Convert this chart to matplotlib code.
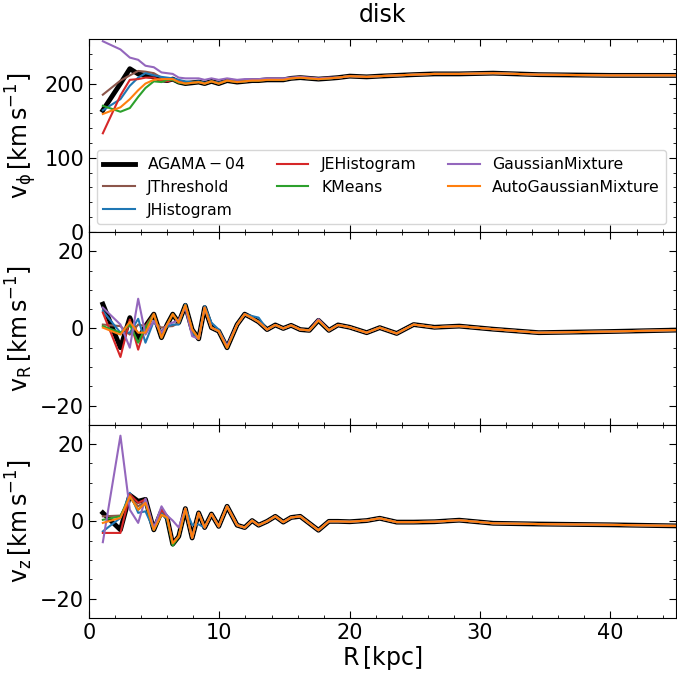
import matplotlib
matplotlib.use("Agg")
import matplotlib.pyplot as plt
from matplotlib.ticker import MultipleLocator

# radial bins [kpc]
R = [1.06, 2.41, 3.13, 3.77, 4.33, 4.97, 5.56, 5.99, 6.42, 6.88,
     7.39, 7.91, 8.41, 8.87, 9.39, 9.95, 10.59, 11.36, 11.94, 12.51,
     13.01, 13.66, 14.29, 14.9, 15.5, 16.2, 16.9, 17.6, 18.4, 19.1,
     20.0, 21.3, 22.3, 23.6, 24.9, 26.5, 28.4, 31.0, 34.5, 40.0, 45.5]

labels = [r"$\rm AGAMA-04$", "JThreshold", "JHistogram", "JEHistogram",
          "KMeans", "GaussianMixture", "AutoGaussianMixture"]
colors = ["black", "tab:brown", "tab:blue", "tab:red", "tab:green", "tab:purple", "tab:orange"]

# v_phi
vphi_agama = [164, 200, 220, 213, 211, 209, 205, 204, 206, 202,
              200, 201, 202, 200, 203, 200, 204, 202, 203, 204,
              204, 205, 205, 205, 207, 208, 207, 206, 207, 208,
              210, 209, 210, 211, 212, 213, 213, 214, 212, 211, 211]
vphi_jthr = [185, 204, 211, 217, 216, 214, 208, 206, 205, 203,
             201, 201, 202, 200, 203, 201, 204, 203, 203, 204,
             205, 205, 205, 205, 207, 208, 207, 206, 207, 208,
             210, 209, 210, 211, 212, 213, 213, 214, 212, 211, 211]
vphi_jhist = [164, 179, 197, 208, 214, 211, 209, 208, 207, 205,
              203, 202, 203, 201, 203, 201, 204, 203, 203, 204,
              205, 205, 205, 205, 207, 208, 207, 206, 207, 208,
              210, 209, 210, 211, 212, 213, 213, 214, 212, 211, 211]
vphi_jehist = [133, 184, 205, 206, 208, 208, 204, 203, 205, 202,
               200, 201, 202, 200, 203, 200, 204, 202, 203, 204,
               204, 205, 205, 205, 207, 208, 207, 206, 207, 208,
               210, 209, 210, 211, 212, 213, 213, 214, 212, 211, 211]
vphi_kmeans = [170, 162, 167, 182, 194, 203, 202, 205, 205, 201,
               200, 201, 202, 200, 203, 200, 204, 202, 203, 204,
               204, 205, 205, 205, 207, 208, 207, 206, 207, 208,
               210, 209, 210, 211, 212, 213, 213, 214, 212, 211, 211]
vphi_gmm = [257, 246, 235, 232, 224, 222, 215, 214, 213, 208,
            207, 207, 207, 205, 207, 205, 207, 205, 206, 206,
            206, 207, 207, 207, 208, 209, 208, 207, 208, 208,
            210, 209, 210, 211, 212, 213, 213, 214, 212, 211, 211]
vphi_autogmm = [159, 168, 179, 191, 200, 205, 206, 206, 206, 202,
                200, 201, 202, 200, 203, 200, 204, 202, 203, 204,
                204, 205, 205, 205, 207, 208, 207, 206, 207, 208,
                210, 209, 210, 211, 212, 213, 213, 214, 212, 211, 211]

# v_R
vR_agama = [6.3, -5.0, 2.8, -2.9, 0.6, 3.7, -2.4, 1.0, 3.7, 1.5,
            6.0, -0.3, -2.7, 5.4, 0.2, -0.7, -5.0, 1.0, 3.7, 2.7,
            1.7, -0.3, 0.9, 0.0, 0.8, -0.3, -0.5, 2.1, -0.5, 0.9,
            0.3, -1.1, 0.2, -1.3, 1.0, 0.3, 0.6, -0.2, -1.1, -0.8, -0.4]
vR_jthr = [1.0, 0.6, -1.6, 1.0, 0.6, 1.5, 0.2, 0.5, 0.6, 1.5,
           6.0, -0.3, -2.7, 5.4, 0.2, -0.7, -5.0, 1.0, 3.7, 2.7,
           1.7, -0.3, 0.9, 0.0, 0.8, -0.3, -0.5, 2.1, -0.5, 0.9,
           0.3, -1.1, 0.2, -1.3, 1.0, 0.3, 0.6, -0.2, -1.1, -0.8, -0.4]
vR_jhist = [4.5, -1.1, -1.1, 2.5, -3.7, 1.9, -1.1, 0.5, 1.0, 1.0,
            6.3, -1.1, -2.7, 5.8, 1.5, -0.3, -4.6, 1.0, 3.7, 3.2,
            2.8, -0.3, 0.9, 0.0, 0.8, -0.3, -0.5, 2.1, -0.5, 0.9,
            0.3, -1.1, 0.2, -1.3, 1.0, 0.3, 0.6, -0.2, -1.1, -0.8, -0.4]
vR_jehist = [4.1, -7.4, 2.3, -5.5, 0.6, 3.8, -2.4, 1.0, 3.7, 1.5,
             6.0, -0.3, -2.7, 5.4, 0.2, -0.7, -5.0, 1.0, 3.7, 2.7,
             1.7, -0.3, 0.9, 0.0, 0.8, -0.3, -0.5, 2.1, -0.5, 0.9,
             0.3, -1.1, 0.2, -1.3, 1.0, 0.3, 0.6, -0.2, -1.1, -0.8, -0.4]
vR_kmeans = [0.6, -1.1, 1.0, -3.7, 0.2, 3.7, -2.4, 1.0, 3.7, 1.5,
             6.0, -0.3, -2.7, 5.4, 0.2, -0.7, -5.0, 1.0, 3.7, 2.7,
             1.7, -0.3, 0.9, 0.0, 0.8, -0.3, -0.5, 2.1, -0.5, 0.9,
             0.3, -1.1, 0.2, -1.3, 1.0, 0.3, 0.6, -0.2, -1.1, -0.8, -0.4]
vR_gmm = [5.4, 1.0, -5.0, 7.7, -1.6, 1.9, -1.1, 1.0, 1.5, 2.2,
          5.4, -2.0, -2.7, 5.4, 0.2, -0.7, -4.6, 1.0, 3.7, 2.7,
          1.7, -0.3, 0.9, 0.0, 0.8, -0.3, -0.5, 2.4, -0.5, 0.9,
          0.3, -1.1, 0.2, -1.3, 1.0, 0.3, 0.6, -0.2, -1.1, -0.8, -0.4]
vR_autogmm = [0.2, -1.6, 1.7, -1.1, -1.1, 3.7, -2.4, 1.0, 3.7, 1.5,
              6.0, -0.3, -2.7, 5.4, 0.2, -0.7, -5.0, 1.0, 3.7, 2.7,
              1.7, -0.3, 0.9, 0.0, 0.8, -0.3, -0.5, 2.1, -0.5, 0.9,
              0.3, -1.1, 0.2, -1.3, 1.0, 0.3, 0.6, -0.2, -1.1, -0.8, -0.4]

# v_z
vz_agama = [2.2, -2.2, 6.8, 5.2, 5.7, -2.2, 2.6, 0.9, -5.9, -3.9,
            3.3, -4.3, 2.2, -1.6, 1.9, -1.3, 3.9, -1.0, -1.6, 0.2,
            -1.0, 0.0, 1.3, -0.2, 1.0, 1.3, -0.5, -2.3, 0.0, 0.0,
            -0.1, 0.2, 0.8, -0.2, -0.2, -0.1, 0.3, -0.5, -0.7, -0.9, -1.2]
vz_jthr = [1.3, 1.5, 6.1, 3.9, 5.2, -2.2, 2.6, 0.9, -5.9, -3.9,
           3.3, -4.3, 2.2, -1.6, 1.9, -1.3, 3.9, -1.0, -1.6, 0.2,
           -1.0, 0.0, 1.3, -0.2, 1.0, 1.3, -0.5, -2.3, 0.0, 0.0,
           -0.1, 0.2, 0.8, -0.2, -0.2, -0.1, 0.3, -0.5, -0.7, -0.9, -1.2]
vz_jhist = [-2.6, 0.9, 7.4, 2.2, 2.6, -2.2, 2.2, 0.5, -5.7, -3.9,
            3.3, -0.9, -0.8, -1.6, 1.9, -1.3, 3.9, -1.0, -1.6, 0.2,
            -1.0, 0.0, 1.3, -0.2, 1.0, 1.3, -0.5, -2.3, 0.0, 0.0,
            -0.1, 0.2, 0.8, -0.2, -0.2, -0.1, 0.3, -0.5, -0.7, -0.9, -1.2]
vz_jehist = [-3.0, -3.0, 7.0, 4.8, 5.7, -2.2, 3.0, 1.3, -5.7, -3.9,
             3.3, -4.3, 2.2, -1.6, 1.9, -1.3, 3.9, -1.0, -1.6, 0.2,
             -1.0, 0.0, 1.3, -0.2, 1.0, 1.3, -0.5, -2.3, 0.0, 0.0,
             -0.1, 0.2, 0.8, -0.2, -0.2, -0.1, 0.3, -0.5, -0.7, -0.9, -1.2]
vz_kmeans = [0.4, 1.3, 6.5, 3.0, 4.8, -2.2, 1.7, 1.0, -6.3, -3.9,
             3.3, -4.3, 2.2, -1.6, 1.9, -1.3, 3.9, -1.0, -1.6, 0.2,
             -1.0, 0.0, 1.3, -0.2, 1.0, 1.3, -0.5, -2.3, 0.0, 0.0,
             -0.1, 0.2, 0.8, -0.2, -0.2, -0.1, 0.3, -0.5, -0.7, -0.9, -1.2]
vz_gmm = [-5.4, 22.2, 3.0, -0.4, 5.9, -1.7, 3.9, 1.5, 0.2, -1.6,
          3.3, -4.3, 2.2, -1.6, 1.9, -1.3, 3.9, -1.0, -1.6, 0.2,
          -1.0, 0.0, 1.3, -0.2, 1.0, 1.3, -0.5, -2.3, 0.0, 0.0,
          -0.1, 0.2, 0.8, -0.2, -0.2, -0.1, 0.3, -0.5, -0.7, -0.9, -1.2]
vz_autogmm = [-0.4, 0.9, 6.5, 3.0, 4.8, -2.2, 1.7, 1.0, -5.7, -3.9,
              3.3, -4.3, 2.2, -1.6, 1.9, -1.3, 3.9, -1.0, -1.6, 0.2,
              -1.0, 0.0, 1.3, -0.2, 1.0, 1.3, -0.5, -2.3, 0.0, 0.0,
              -0.1, 0.2, 0.8, -0.2, -0.2, -0.1, 0.3, -0.5, -0.7, -0.9, -1.2]

panels = [
    ([vphi_agama, vphi_jthr, vphi_jhist, vphi_jehist, vphi_kmeans, vphi_gmm, vphi_autogmm],
     r"$\rm v_{\phi}\,[km\,s^{-1}]$", (0, 260), 100, 20),
    ([vR_agama, vR_jthr, vR_jhist, vR_jehist, vR_kmeans, vR_gmm, vR_autogmm],
     r"$\rm v_{R}\,[km\,s^{-1}]$", (-25, 25), 20, 5),
    ([vz_agama, vz_jthr, vz_jhist, vz_jehist, vz_kmeans, vz_gmm, vz_autogmm],
     r"$\rm v_{z}\,[km\,s^{-1}]$", (-25, 25), 20, 5),
]

fig, axes = plt.subplots(3, 1, figsize=(6.77, 6.73), dpi=100, sharex=True)
fig.subplots_adjust(left=0.1315, right=0.998, top=0.942, bottom=0.082, hspace=0)

for ax, (series, ylab, ylim, major, minor) in zip(axes, panels):
    for i, vals in enumerate(series):
        lw = 3.5 if i == 0 else 1.5
        ax.plot(R, vals, color=colors[i], lw=lw, label=labels[i])
    ax.set_xlim(0, 45)
    ax.set_ylim(*ylim)
    ax.set_ylabel(ylab, fontsize=17)
    ax.yaxis.set_major_locator(MultipleLocator(major))
    ax.yaxis.set_minor_locator(MultipleLocator(minor))
    ax.xaxis.set_major_locator(MultipleLocator(10))
    ax.xaxis.set_minor_locator(MultipleLocator(2))
    ax.tick_params(which="both", direction="in", top=True, right=True, labelsize=15)
    ax.tick_params(which="major", length=5)
    ax.tick_params(which="minor", length=2.5)

axes[0].set_title("disk", fontsize=17, pad=12)
axes[0].legend(loc="lower left", ncol=3, fontsize=11.3)
axes[2].set_xlabel(r"$\rm R\,[kpc]$", fontsize=17, labelpad=1)

fig.savefig("out.png", dpi=100)
